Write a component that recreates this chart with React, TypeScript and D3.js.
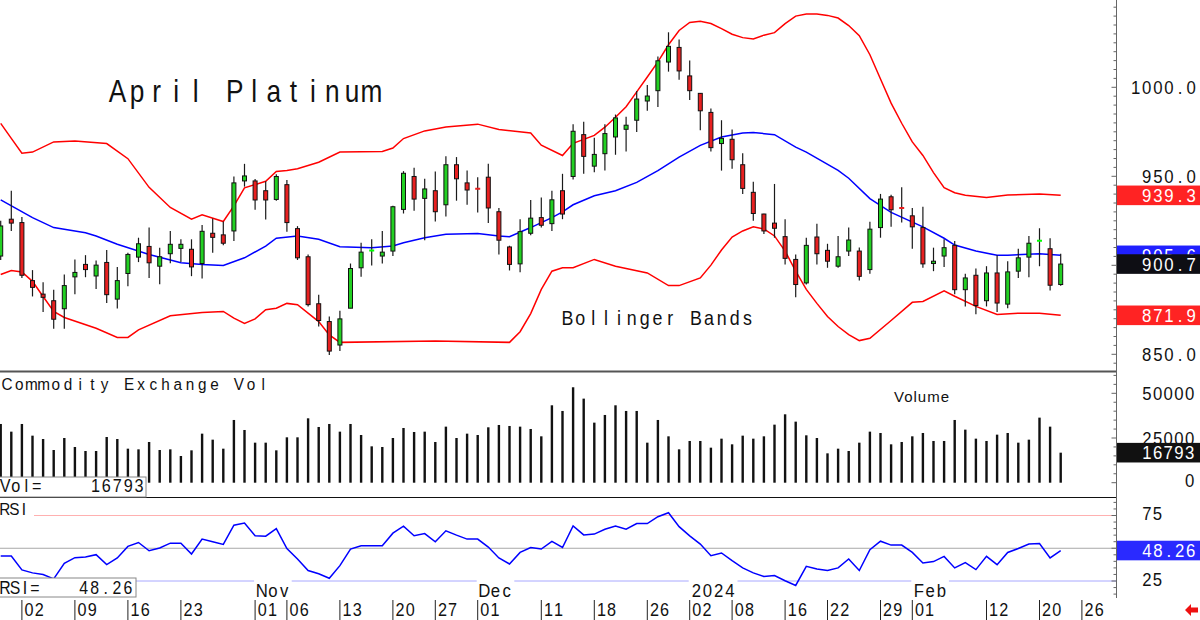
import React from "react";
import * as d3 from "d3";

const FONT = "'Liberation Sans', Arial, Helvetica, sans-serif";

// ---- trading days (categories) ----
const sep2023 = [28, 29];
const oct2023 = [2, 3, 4, 5, 6, 9, 10, 11, 12, 13, 16, 17, 18, 19, 20, 23, 24, 25, 26, 27, 30, 31];
const nov2023 = [1, 2, 3, 6, 7, 8, 9, 10, 13, 14, 15, 16, 17, 20, 21, 22, 24, 27, 28, 29, 30];
const dec2023 = [1, 4, 5, 6, 7, 8, 11, 12, 13, 14, 15, 18, 19, 20, 21, 22, 26, 27, 28, 29];
const jan2024 = [2, 3, 4, 5, 8, 9, 10, 11, 12, 16, 17, 18, 19, 22, 23, 24, 25, 26, 29, 30, 31];
const feb2024 = [1, 2, 5, 6, 7, 8, 9, 12, 13, 14, 15, 16, 20, 21, 22];
const futureFeb2024 = [23, 26];

// ---- OHLC ----
const opens = [
  905.2, 925.9, 924.0, 891.4, 883.8, 880.1, 875.6, 893.5, 900.5, 894.0,
  901.6, 881.0, 895.4, 904.6, 910.6, 899.5, 906.5, 909.5, 909.0, 901.0,
  918.0, 917.1, 919.3, 947.4, 947.4, 941.9, 937.0, 945.3, 920.6, 904.8,
  878.4, 868.4, 855.2, 875.9, 898.6, 907.8, 905.2, 908.0, 931.4, 949.9,
  937.6, 941.9, 934.0, 956.5, 946.3, 943.3, 949.5, 930.1, 910.3, 900.8,
  918.0, 926.8, 923.4, 941.9, 949.9, 973.4, 955.7, 962.7, 972.1, 976.4,
  981.5, 992.3, 998.1, 1014.2, 1022.4, 1006.4, 996.6, 985.9, 968.4, 970.8,
  956.5, 941.0, 928.8, 923.7, 916.1, 903.3, 890.1, 915.9, 908.4, 899.5,
  908.0, 908.0, 897.6, 921.2, 938.5, 932.6, 927.8, 921.2, 901.0, 905.2,
  911.2, 886.3, 894.4, 880.1, 895.7, 878.2, 896.7, 904.6, 913.4, 909.3, 889.2,
];
const closes = [
  922.1, 923.7, 894.4, 887.6, 882.0, 869.7, 888.6, 896.0, 897.6, 900.1,
  883.5, 891.4, 906.1, 912.1, 901.4, 904.8, 911.8, 911.8, 899.1, 919.1,
  915.7, 912.4, 946.3, 950.2, 936.7, 936.7, 949.9, 924.0, 904.2, 877.9,
  869.0, 851.8, 869.9, 898.2, 907.4, 908.3, 907.4, 932.9, 951.7, 937.2,
  942.9, 930.1, 956.5, 948.6, 942.3, 943.0, 932.2, 914.1, 900.5, 918.9,
  926.5, 922.5, 936.8, 928.8, 975.3, 961.2, 962.3, 974.0, 982.8, 978.7,
  993.4, 995.1, 1014.9, 1023.0, 1009.2, 998.1, 986.8, 966.1, 971.3, 959.3,
  943.2, 929.1, 919.3, 920.8, 903.9, 889.2, 911.2, 906.5, 902.3, 904.8,
  914.2, 893.8, 920.3, 937.2, 931.2, 932.2, 921.6, 900.8, 902.3, 909.9,
  886.3, 892.9, 877.4, 895.7, 878.8, 896.3, 904.2, 912.4, 913.8, 888.8, 900.7,
];
const highs = [
  925.0, 941.9, 927.2, 897.3, 890.5, 886.3, 894.8, 903.3, 905.7, 902.7,
  908.6, 899.0, 907.0, 915.5, 921.2, 909.9, 919.3, 914.6, 914.6, 922.7,
  926.3, 924.6, 949.9, 957.0, 948.5, 947.2, 951.2, 947.9, 922.0, 906.1,
  883.5, 871.2, 874.5, 901.0, 912.7, 914.6, 919.3, 933.5, 952.9, 954.8,
  948.6, 952.7, 961.2, 960.8, 953.2, 949.5, 957.0, 932.2, 911.0, 925.9,
  936.7, 938.1, 941.9, 951.4, 979.2, 980.6, 971.7, 979.3, 984.7, 983.4,
  997.9, 1001.3, 1017.3, 1030.9, 1026.8, 1015.1, 996.8, 988.1, 981.5, 976.3,
  963.0, 947.0, 929.0, 945.7, 925.9, 906.1, 915.5, 923.4, 912.1, 916.5,
  921.2, 910.0, 924.4, 940.1, 939.7, 943.8, 932.2, 932.9, 909.9, 914.6,
  913.7, 895.2, 898.2, 899.5, 905.7, 902.3, 909.3, 916.5, 920.8, 915.2, 906.5,
];
const lows = [
  903.0, 919.3, 892.9, 882.5, 873.7, 864.3, 864.3, 883.8, 893.3, 886.7,
  878.8, 875.8, 888.2, 901.8, 892.9, 889.3, 901.2, 901.8, 893.9, 892.6,
  907.0, 911.2, 913.7, 944.2, 931.2, 925.7, 936.3, 918.9, 903.0, 876.9,
  865.6, 849.6, 851.8, 875.9, 893.5, 899.9, 901.0, 905.2, 929.1, 930.6,
  914.1, 924.6, 927.4, 936.3, 934.0, 929.7, 923.7, 906.1, 897.1, 896.1,
  916.9, 921.2, 919.3, 925.9, 948.2, 951.4, 952.3, 953.2, 962.1, 964.0,
  974.9, 986.8, 989.0, 1008.8, 1004.2, 992.8, 975.9, 964.0, 953.2, 954.2,
  940.1, 925.0, 917.6, 915.5, 900.5, 882.0, 889.2, 900.5, 898.6, 898.6,
  905.2, 891.4, 895.2, 915.5, 921.6, 924.0, 909.3, 898.6, 896.7, 899.0,
  883.8, 876.9, 872.5, 876.9, 873.7, 875.9, 892.9, 893.3, 899.5, 885.8, 888.5,
];

// ---- Bollinger bands: [candle index, value] ----
const upperBand: [number, number][] = [
  [0, 979.7], [1, 971.3], [2, 963.0], [3, 963.6], [5, 969.3], [7, 969.8], [10, 968.4], [12, 959.9],
  [14, 943.8], [16, 932.5], [18, 925.9], [19, 928.4], [21, 924.6], [22, 933.4], [23, 943.5], [25, 947.2],
  [26, 952.7], [27, 953.3], [28, 954.2], [30, 957.9], [32, 963.6], [36, 964.0], [37, 965.9], [38, 971.2],
  [40, 975.5], [42, 977.7], [45, 979.3], [47, 976.3], [50, 974.3], [51, 967.5], [53, 961.7], [54, 968.5],
  [56, 973.0], [57, 977.6], [58, 983.2], [59, 989.1], [60, 997.4], [61, 1005.8], [62, 1014.3], [63, 1023.9],
  [64, 1031.9], [65, 1036.4], [66, 1037.1], [67, 1035.8], [68, 1033.0], [69, 1029.8], [70, 1027.9], [71, 1027.2],
  [72, 1029.3], [73, 1030.7], [74, 1035.8], [75, 1040.0], [76, 1041.2], [77, 1041.2], [78, 1040.4], [79, 1038.9],
  [80, 1034.7], [81, 1029.0], [82, 1018.3], [83, 1004.7], [84, 991.1], [85, 979.8], [86, 969.3], [87, 961.7],
  [88, 952.1], [89, 943.6], [90, 940.8], [91, 939.4], [93, 938.1], [95, 939.5], [98, 940.1], [100, 939.3],
];
const midBand: [number, number][] = [
  [0, 936.8], [3, 926.8], [5, 921.2], [8, 918.3], [9, 916.5], [11, 911.8], [14, 906.1], [17, 901.4],
  [19, 900.5], [21, 899.9], [23, 904.2], [25, 910.8], [26, 915.2], [28, 916.5], [30, 914.6], [32, 910.4],
  [35, 909.9], [37, 910.8], [38, 912.7], [40, 915.5], [42, 917.4], [45, 917.8], [47, 916.5], [48, 916.1],
  [50, 921.2], [52, 926.8], [53, 930.0], [54, 934.0], [56, 939.1], [58, 941.9], [60, 946.6], [62, 953.2],
  [64, 960.8], [66, 967.4], [68, 972.1], [70, 974.3], [71, 974.6], [73, 973.4], [75, 966.4], [76, 963.6],
  [79, 953.3], [80, 948.9], [82, 937.5], [84, 929.7], [87, 921.6], [89, 915.2], [90, 911.4], [92, 908.0],
  [94, 905.6], [95, 905.7], [98, 906.5], [100, 905.6],
];
const lowerBand: [number, number][] = [
  [0, 894.8], [1, 897.1], [2, 896.3], [3, 891.0], [4, 882.5], [5, 874.1], [6, 870.7], [9, 864.6],
  [11, 859.5], [12, 859.5], [13, 863.7], [16, 871.6], [19, 873.5], [21, 874.1], [22, 870.3], [23, 867.4],
  [24, 869.9], [25, 875.0], [26, 875.9], [27, 878.6], [28, 877.9], [30, 868.4], [31, 860.9], [32, 856.7],
  [41, 857.5], [48, 856.7], [49, 862.7], [50, 872.9], [51, 886.5], [52, 896.7], [53, 898.6], [54, 898.6],
  [56, 903.3], [58, 899.5], [61, 895.7], [63, 888.6], [64, 888.6], [66, 892.9], [67, 900.1], [68, 908.6],
  [69, 915.9], [70, 919.3], [71, 921.6], [72, 920.4], [73, 916.5], [74, 908.0], [75, 896.7], [76, 886.5],
  [77, 878.6], [78, 871.2], [79, 865.6], [80, 861.1], [81, 857.7], [82, 859.0], [84, 869.0], [86, 879.2],
  [87, 879.7], [89, 885.7], [90, 882.6], [92, 876.9], [94, 872.4], [96, 873.1], [98, 873.1], [100, 871.9],
];

// ---- volume ----
const volumes = [
  32840, 28550, 32840, 26310, 24440, 18290, 25000, 19970, 17730, 17730,
  25560, 24440, 19030, 18660, 22770, 18290, 18660, 14930, 18100, 27430,
  24070, 19030, 35080, 29480, 22390, 22390, 18100, 25380, 25380, 36010,
  31160, 32840, 28550, 32840, 26680, 20340, 19970, 25000, 30600, 28360,
  28550, 22770, 31350, 25000, 27430, 26680, 30980, 32280, 31720, 31350,
  30040, 25940, 43290, 40120, 53370, 47020, 33590, 37880, 43290, 40120,
  40120, 22390, 35080, 25940, 18660, 23330, 23330, 19590, 24630, 21460,
  26310, 24630, 25940, 32470, 38250, 34150, 26500, 25000, 16420, 19030,
  17730, 22390, 28550, 27800, 21460, 22770, 25940, 27800, 23330, 23330,
  35080, 29670, 24630, 23330, 26870, 27800, 22390, 24070, 36390, 31350, 16793,
];

// ---- RSI ----
const rsi = [
  44.1, 44.1, 33.5, 31.2, 29.9, 26.6, 38.5, 42.8, 43.3, 45.1,
  37.5, 42.6, 51.4, 54.4, 48.1, 50.2, 53.9, 53.9, 45.6, 57.0,
  54.9, 52.9, 67.6, 69.3, 59.5, 59.2, 65.0, 49.8, 41.8, 33.0,
  30.5, 27.1, 36.7, 49.4, 51.9, 51.9, 51.9, 61.5, 66.8, 59.5,
  61.2, 54.9, 63.3, 60.0, 57.0, 57.0, 50.9, 42.6, 38.0, 46.8,
  50.6, 49.4, 55.2, 50.6, 67.0, 60.2, 60.8, 64.5, 67.0, 64.5,
  68.8, 68.8, 74.1, 77.1, 66.5, 59.5, 53.2, 44.3, 46.4, 40.5,
  35.0, 31.2, 28.4, 29.2, 25.2, 21.6, 36.2, 34.2, 33.0, 35.0,
  41.8, 33.0, 48.9, 55.4, 52.4, 52.4, 46.8, 38.8, 39.8, 43.8,
  35.0, 39.0, 33.7, 43.8, 37.5, 46.8, 49.8, 53.2, 53.6, 42.6, 48.26,
];

// ---- axis labels ----
const tickDates = [
  "2023-10-02", "2023-10-09", "2023-10-16", "2023-10-23", "2023-11-01", "2023-11-06", "2023-11-13",
  "2023-11-20", "2023-11-27", "2023-12-01", "2023-12-11", "2023-12-18", "2023-12-26", "2024-01-02",
  "2024-01-08", "2024-01-16", "2024-01-22", "2024-01-29", "2024-02-01", "2024-02-12", "2024-02-20", "2024-02-26",
];
const monthLabels = ["Nov", "Dec", "2024", "Feb"];
const monthStarts = ["2023-11-01", "2023-12-01", "2024-01-02", "2024-02-01"];
const priceTicks = [850, 900, 950, 1000];
const volumeTicks = [0, 25000, 50000];
const rsiTicks = [25, 75];

const pad = (n: number) => String(n).padStart(2, "0");
const mk = (y: number, m: number, days: number[]) => days.map((d) => `${y}-${pad(m)}-${pad(d)}`);
const dates = [
  ...mk(2023, 9, sep2023), ...mk(2023, 10, oct2023), ...mk(2023, 11, nov2023),
  ...mk(2023, 12, dec2023), ...mk(2024, 1, jan2024), ...mk(2024, 2, feb2024),
];
const allDates = [...dates, ...mk(2024, 2, futureFeb2024)];

type STP = {
  x: number; y: number; text: string; cell: number; size: number;
  anchor?: "start" | "end"; fill?: string; sx?: number;
};
function SpacedText({ x, y, text, cell, size, anchor = "start", fill = "#111", sx = 1 }: STP) {
  const n = text.length;
  const x0 = anchor === "end" ? x - n * cell : x;
  const xs = Array.from(text).map((_, k) => (((k + 0.5) * cell) / sx).toFixed(2)).join(" ");
  return (
    <text
      transform={`translate(${x0},${y}) scale(${sx},1)`}
      x={xs}
      y={0}
      fontSize={size}
      fontFamily={FONT}
      fill={fill}
      textAnchor="middle"
      style={{ whiteSpace: "pre" }}
    >
      {text}
    </text>
  );
}

const AXIS_X = 1116.5;
const GREEN = "#22d022";
const RED = "#e82020";

export default function App() {
  const n = dates.length;
  const x = d3.scaleLinear().domain([0, n - 1]).range([0.7, 1060.7]);
  const yP = d3.scaleLinear().domain([850, 1000]).range([354.3, 87.3]);
  const yV = d3.scaleLinear().domain([0, 50000]).range([482.7, 393.3]);
  const yR = d3.scaleLinear().domain([25, 75]).range([581, 515.5]);

  const bandLine = d3
    .line<[number, number]>()
    .x((d) => x(d[0]))
    .y((d) => yP(d[1]));
  const rsiLine = d3
    .line<number>()
    .x((_, i) => x(i))
    .y((d) => yR(d));

  const priceMinor = d3.range(845, 1050, 5).filter((p) => yP(p) > 1 && yP(p) < 370);
  const volMinor = d3.range(0, 65000, 5000).filter((v) => yV(v) > 374 && yV(v) < 496);
  const rsiMinor = d3.range(0, 105, 5).filter((r) => yR(r) > 499 && yR(r) < 597);

  const last = n - 1;
  const valueBoxes = [
    { v: upperBand[upperBand.length - 1][1], color: "#ff2323" },
    { v: lowerBand[lowerBand.length - 1][1], color: "#ff2323" },
    { v: midBand[midBand.length - 1][1], color: "#2020ff" },
    { v: closes[last], color: "#0e0e14" },
  ];
  // price labels hidden behind a value box are not drawn (as in the reference)
  const visiblePriceTicks = priceTicks.filter((p) => valueBoxes.every((b) => Math.abs(yP(p) - yP(b.v)) > 14));

  return (
    <svg
      width={1200}
      height={620}
      style={{ position: "absolute", left: 0, top: 0, display: "block", background: "#fff" }}
    >
      <rect x={0} y={0} width={1200} height={620} fill="#fff" />
      <defs>
        <clipPath id="mainClip">
          <rect x={0} y={0} width={AXIS_X} height={370} />
        </clipPath>
      </defs>

      {/* ===== main price panel ===== */}
      <SpacedText x={107.7} y={101.7} text="April Platinum" cell={19.54} size={32} sx={0.82} />
      <SpacedText x={561} y={325} text="Bollinger Bands" cell={12.86} size={21} sx={0.85} />

      <g clipPath="url(#mainClip)">
        <path d={bandLine(upperBand) || ""} fill="none" stroke="#ff0000" strokeWidth={1.5} />
        <path d={bandLine(lowerBand) || ""} fill="none" stroke="#ff0000" strokeWidth={1.5} />
        <path d={bandLine(midBand) || ""} fill="none" stroke="#0000ff" strokeWidth={1.5} />
        {opens.map((o, i) => {
          const c = closes[i];
          const cx = x(i);
          const up = c >= o;
          const doji = Math.abs(c - o) < 1;
          const top = yP(Math.max(o, c));
          const bot = yP(Math.min(o, c));
          return (
            <g key={i}>
              <line x1={cx} x2={cx} y1={yP(highs[i])} y2={yP(lows[i])} stroke="#1a1a1a" strokeWidth={1.2} />
              {doji ? (
                <line x1={cx - 2.5} x2={cx + 2.5} y1={yP(c)} y2={yP(c)} stroke={up ? "#00ff00" : RED} strokeWidth={2} />
              ) : (
                <rect x={cx - 2} y={top} width={4} height={Math.max(1, bot - top)} fill={up ? GREEN : RED} stroke="#111" strokeWidth={1} />
              )}
            </g>
          );
        })}
      </g>

      {/* separators */}
      <line x1={0} x2={AXIS_X} y1={371.5} y2={371.5} stroke="#555" strokeWidth={2} />
      <line x1={0} x2={AXIS_X} y1={497.5} y2={497.5} stroke="#111" strokeWidth={1} />

      {/* ===== volume panel ===== */}
      <SpacedText x={0.9} y={390} text="Commodity Exchange Vol" cell={12.2} size={17} sx={0.9} />
      <text x={894} y={402} fontSize={15} fontFamily={FONT} fill="#111" letterSpacing={1}>Volume</text>
      {volumes.map((v, i) => (
        <rect key={i} x={x(i) - 1.2} y={yV(v)} width={2.4} height={yV(0) - yV(v)} fill="#111" />
      ))}
      <rect x={-1} y={477} width={147} height={20} fill="#fff" stroke="#888" strokeWidth={1} />
      <SpacedText x={0} y={492} text="Vol=" cell={10.5} size={18} sx={0.9} />
      <SpacedText x={144.5} y={492} text={String(volumes[last])} cell={10.9} size={18} sx={0.9} anchor="end" />

      {/* ===== RSI panel ===== */}
      <line x1={0} x2={AXIS_X} y1={yR(75)} y2={yR(75)} stroke="#ffb0b0" strokeWidth={1} />
      <line x1={0} x2={AXIS_X} y1={yR(50)} y2={yR(50)} stroke="#a8a8a8" strokeWidth={1} />
      <line x1={0} x2={AXIS_X} y1={yR(25)} y2={yR(25)} stroke="#a8a8ff" strokeWidth={1} />
      <path d={rsiLine(rsi) || ""} fill="none" stroke="#0000ff" strokeWidth={1.5} />
      <rect x={0} y={500} width={34} height={17} fill="#fff" />
      <SpacedText x={0} y={515} text="RSI" cell={9.6} size={17} sx={0.9} />

      {monthLabels.map((m, k) => {
        const tx = x(allDates.indexOf(monthStarts[k]));
        return (
          <g key={m}>
            <rect x={tx - 1} y={579} width={m.length * 11.2 + 4} height={19} fill="#fff" />
            <SpacedText x={tx + 1} y={596.5} text={m} cell={11.2} size={18.6} sx={0.9} />
          </g>
        );
      })}

      <rect x={-1} y={578} width={137} height={19} fill="#fff" stroke="#888" strokeWidth={1} />
      <SpacedText x={0} y={594.3} text="RSI=" cell={10} size={17.6} sx={0.9} />
      <SpacedText x={133.5} y={594.3} text={rsi[last].toFixed(2)} cell={11.1} size={17.6} sx={0.9} anchor="end" />

      {/* ===== date axis ===== */}
      {tickDates.map((d) => {
        const tx = x(allDates.indexOf(d));
        return (
          <g key={d}>
            <line x1={tx} x2={tx} y1={600} y2={620} stroke="#222" strokeWidth={1} />
            <SpacedText x={tx + 2} y={615.8} text={d.slice(8)} cell={10.2} size={18} sx={0.9} />
          </g>
        );
      })}

      {/* ===== right axis ===== */}
      <line x1={AXIS_X} x2={AXIS_X} y1={0} y2={598} stroke="#666" strokeWidth={1} />
      {priceMinor.map((p) => (
        <line key={"p" + p} x1={AXIS_X - (p % 50 === 0 ? 5 : 3)} x2={AXIS_X} y1={yP(p)} y2={yP(p)} stroke="#666" />
      ))}
      {volMinor.map((v) => (
        <line key={"v" + v} x1={AXIS_X - (v % 25000 === 0 ? 5 : 3)} x2={AXIS_X} y1={yV(v)} y2={yV(v)} stroke="#666" />
      ))}
      {rsiMinor.map((r) => (
        <line key={"r" + r} x1={AXIS_X - (r % 25 === 0 ? 5 : 3)} x2={AXIS_X} y1={yR(r)} y2={yR(r)} stroke="#666" />
      ))}

      {visiblePriceTicks.map((p) => (
        <SpacedText key={p} x={1196.7} y={yP(p) + 6.6} text={p.toFixed(1)} cell={11.1} size={18.6} sx={0.9} anchor="end" />
      ))}
      {valueBoxes.map((b, k) => (
        <g key={k}>
          <rect x={AXIS_X + 0.5} y={yP(b.v) - 9.8} width={84} height={19.6} fill={b.color} />
          <SpacedText x={1196.7} y={yP(b.v) + 6.6} text={b.v.toFixed(1)} cell={11.1} size={18.6} sx={0.9} anchor="end" fill="#fff" />
        </g>
      ))}

      {volumeTicks.map((v) => (
        <SpacedText key={v} x={1195} y={Math.min(yV(v), 480) + 6.6} text={String(v)} cell={10.7} size={18.6} sx={0.9} anchor="end" />
      ))}
      <rect x={AXIS_X + 0.5} y={yV(volumes[last]) - 9.8} width={84} height={19.6} fill="#111" />
      <SpacedText x={1195} y={yV(volumes[last]) + 6.6} text={String(volumes[last])} cell={10.7} size={18.6} sx={0.9} anchor="end" fill="#fff" />

      {rsiTicks.map((r) => (
        <SpacedText key={r} x={1141.7} y={yR(r) - 2 + 6.6} text={String(r)} cell={10.5} size={18.6} sx={0.9} />
      ))}
      <rect x={AXIS_X + 0.5} y={yR(rsi[last]) - 9.8} width={84} height={19.6} fill="#2a2aff" />
      <SpacedText x={1196} y={yR(rsi[last]) + 6.6} text={rsi[last].toFixed(2)} cell={10.9} size={18.6} sx={0.9} anchor="end" fill="#fff" />

      {/* red arrow */}
      <path d="M1185,610 L1191,604 L1191,607.5 L1198,607.5 L1198,612.5 L1191,612.5 L1191,616 Z" fill="#ee1111" />
    </svg>
  );
}
